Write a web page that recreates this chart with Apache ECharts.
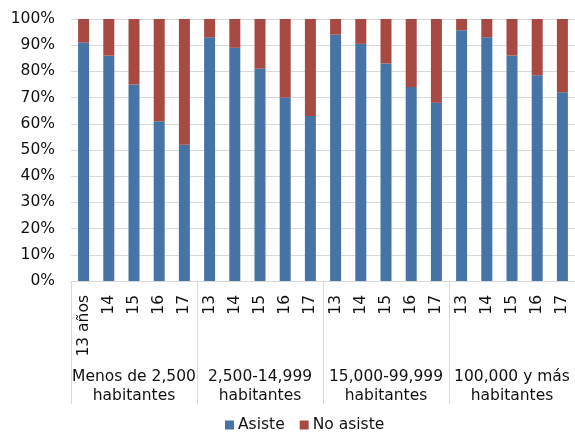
<!DOCTYPE html>
<html>
<head>
<meta charset="utf-8">
<script src="https://cdn.jsdelivr.net/npm/echarts@6/dist/echarts.min.js"></script>
<style>
  html, body { margin: 0; padding: 0; background: #fff; }
  #chart { width: 575px; height: 434px; }
</style>
</head>
<body>
<div id="chart"></div>
<script>
// edades dentro de cada grupo de tamaño de localidad
const ages = ['13 años', '14', '15', '16', '17',
              '13', '14', '15', '16', '17',
              '13', '14', '15', '16', '17',
              '13', '14', '15', '16', '17'];
const groups = ['Menos de 2,500\nhabitantes', '2,500-14,999\nhabitantes',
                '15,000-99,999\nhabitantes', '100,000 y más\nhabitantes'];

const asiste = [91, 86, 75, 61, 52,
                93, 89, 81, 70, 63,
                94, 90.5, 83, 74, 68,
                95.7, 93, 86, 78.5, 72];
const noAsiste = [9, 14, 25, 39, 48,
                  7, 11, 19, 30, 37,
                  6, 9.5, 17, 26, 32,
                  4.3, 7, 14, 21.5, 28];

const yTicks = [0, 10, 20, 30, 40, 50, 60, 70, 80, 90, 100];

const font = "'DejaVu Sans', Verdana, sans-serif";
const chart = echarts.init(document.getElementById('chart'));

chart.setOption({
  animation: false,
  textStyle: { fontFamily: font },
  grid: { left: 71, top: 19, width: 508, height: 262 },
  legend: {
    bottom: -4,
    left: 220,
    itemWidth: 9,
    itemHeight: 9,
    itemGap: 15,
    icon: 'rect',
    textStyle: { fontFamily: font, fontSize: 15.5, color: '#111', padding: [0, 0, 0, -1] },
    data: ['Asiste', 'No asiste']
  },
  xAxis: [
    {
      type: 'category',
      data: ages,
      axisLine: { lineStyle: { color: '#d9d9d9' } },
      axisTick: { show: false },
      axisLabel: { interval: 0, rotate: 90, margin: 14, fontSize: 15.5, color: '#111', fontFamily: font }
    },
    {
      type: 'category',
      data: groups,
      position: 'bottom',
      axisLine: { lineStyle: { color: '#d9d9d9' } },
      axisTick: { show: true, length: 123, lineStyle: { color: '#d9d9d9' } },
      axisLabel: { interval: 0, margin: 86, fontSize: 15.5, lineHeight: 19, color: '#111', fontFamily: font }
    }
  ],
  yAxis: {
    type: 'value',
    min: yTicks[0],
    max: yTicks[yTicks.length - 1],
    interval: 10,
    axisLine: { show: false },
    axisTick: { show: false },
    splitLine: { lineStyle: { color: '#d9d9d9' } },
    axisLabel: { formatter: '{value}%', margin: 16, fontSize: 15.5, color: '#111', fontFamily: font }
  },
  series: [
    {
      name: 'Asiste',
      type: 'bar',
      stack: 'total',
      barWidth: 11,
      data: asiste,
      itemStyle: { color: '#4674A6' }
    },
    {
      name: 'No asiste',
      type: 'bar',
      stack: 'total',
      barWidth: 11,
      data: noAsiste,
      itemStyle: { color: '#A84A43' }
    }
  ]
});
</script>
</body>
</html>
